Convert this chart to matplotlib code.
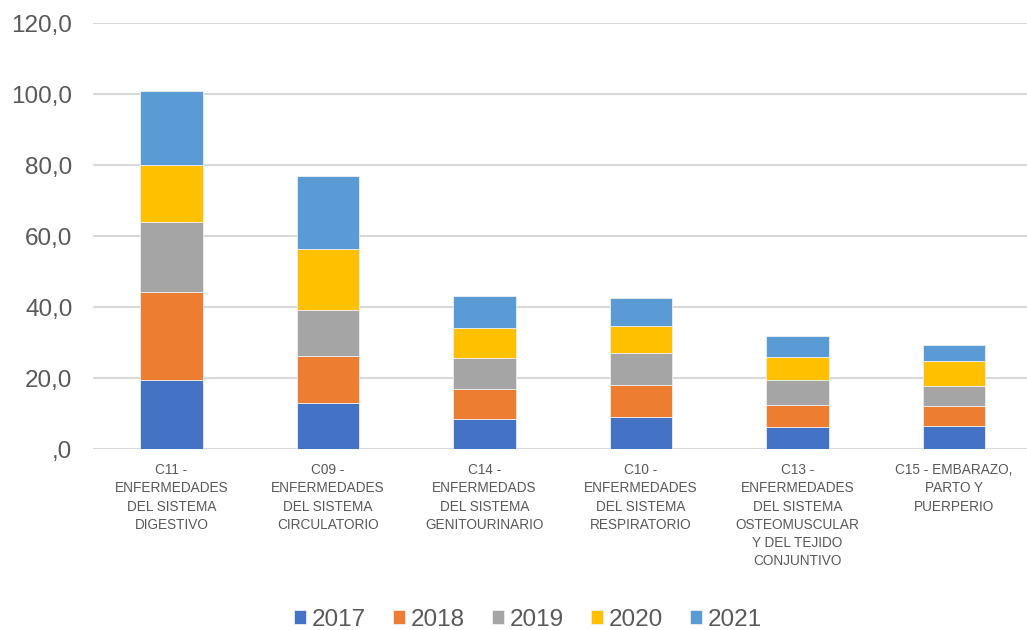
import numpy as np
import matplotlib.pyplot as plt

plt.rcParams['font.family'] = ['Liberation Sans', 'DejaVu Sans']

categories = [
    "C11 -\nENFERMEDADES\nDEL SISTEMA\nDIGESTIVO",
    "C09 -\nENFERMEDADES\nDEL SISTEMA\nCIRCULATORIO",
    "C14 -\nENFERMEDADS\nDEL SISTEMA\nGENITOURINARIO",
    "C10 -\nENFERMEDADES\nDEL SISTEMA\nRESPIRATORIO",
    "C13 -\nENFERMEDADES\nDEL SISTEMA\nOSTEOMUSCULAR\nY DEL TEJIDO\nCONJUNTIVO",
    "C15 - EMBARAZO,\nPARTO Y\nPUERPERIO",
]
years = ["2017", "2018", "2019", "2020", "2021"]
v2017 = [19.6, 13.0, 8.5, 9.1, 6.2, 6.6]
v2018 = [24.7, 13.2, 8.4, 8.9, 6.3, 5.6]
v2019 = [19.7, 13.0, 8.7, 9.0, 6.9, 5.6]
v2020 = [16.0, 17.2, 8.5, 7.7, 6.5, 7.0]
v2021 = [20.9, 20.6, 9.1, 8.0, 6.0, 4.6]
colors = ["#4472C4", "#ED7D31", "#A5A5A5", "#FFC000", "#5B9BD5"]

series = [v2017, v2018, v2019, v2020, v2021]
txt = "#595959"

fig = plt.figure(figsize=(10.27, 6.30), dpi=100)
ax = fig.add_axes([0.0908, 0.2868, 0.9143, 0.676])

x = np.arange(len(categories))
bottom = np.zeros(len(categories))
for yr, vals, c in zip(years, series, colors):
    ax.bar(x, vals, 0.4, bottom=bottom, color=c, label=yr,
           edgecolor="#eeeeee", linewidth=0.6, zorder=3)
    bottom += np.array(vals)

ax.set_xlim(-0.5, len(categories) - 0.5)
ax.set_ylim(0, 120)
yt = np.arange(0, 121, 20)
ax.set_yticks(yt)
ax.set_yticklabels([f"{v:.1f}".replace(".", ",").lstrip("0") for v in yt],
                   fontsize=17.5, color=txt)
ax.set_xticks(x)
ax.set_xticklabels(categories, fontsize=9.8, color=txt, linespacing=1.38)
ax.tick_params(length=0)
ax.tick_params(axis='y', pad=15)
ax.tick_params(axis='x', pad=10)
ax.grid(axis='y', color="#d9d9d9", linewidth=1.5, zorder=0)
for s in ax.spines.values():
    s.set_visible(False)

ax.legend(loc='center', bbox_to_anchor=(0.463, -0.40), ncol=5,
          frameon=False, fontsize=17.5, labelcolor=txt, handlelength=0.5,
          handleheight=0.5, handletextpad=0.25, columnspacing=1.1,
          borderpad=0.2)

fig.savefig("out.png", dpi=100)
